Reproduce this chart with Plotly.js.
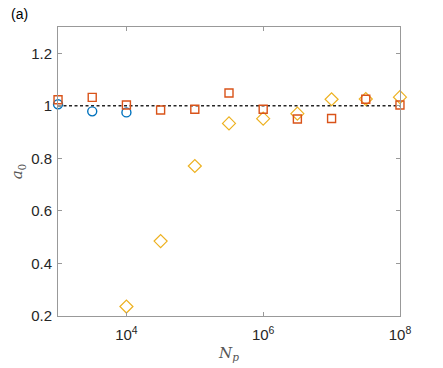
<!DOCTYPE html>
<html>
<head>
<meta charset="utf-8">
<script src="https://cdn.plot.ly/plotly-3.0.1.min.js"></script>
<style>
  body { margin: 0; background: #fff; }
  #grafico { width: 443px; height: 368px; }
</style>
</head>
<body>
<div id="grafico"></div>
<script>
// valores de Np (meias decadas de 10^3 a 10^8)
const Np = [1e3, 3.162e3, 1e4, 3.162e4, 1e5, 3.162e5, 1e6, 3.162e6, 1e7, 3.162e7, 1e8];

// serie azul (circulos)
const npCirculos = [1e3, 3.162e3, 1e4];
const a0Circulos = [1.006, 0.979, 0.975];

// serie laranja (quadrados)
const a0Quadrados = [1.023, 1.032, 1.003, 0.984, 0.987, 1.049, 0.987, 0.950, 0.952, 1.025, 1.003];

// serie amarela (losangos)
const npLosangos = [1e4, 3.162e4, 1e5, 3.162e5, 1e6, 3.162e6, 1e7, 3.162e7, 1e8];
const a0Losangos = [0.236, 0.485, 0.771, 0.933, 0.951, 0.970, 1.025, 1.026, 1.033];

// linha de referencia
const refX = [1e3, 1e8];
const refY = [1, 1];

// ticks
const xTicks = [1e4, 1e6, 1e8];
const xTickText = ["10<sup>4</sup>", "10<sup>6</sup>", "10<sup>8</sup>"];
const yTicks = [0.2, 0.4, 0.6, 0.8, 1, 1.2];
const yTickText = ["0.2", "0.4", "0.6", "0.8", "1", "1.2"];

const data = [
  {x: refX, y: refY, mode: "lines", line: {color: "#262626", width: 1.5, dash: "3px,2.5px"}, hoverinfo: "skip"},
  {x: npLosangos, y: a0Losangos, mode: "markers", cliponaxis: false,
   marker: {symbol: "diamond-open", size: 10, color: "#EDB120", line: {width: 1.2}}},
  {x: npCirculos, y: a0Circulos, mode: "markers", cliponaxis: false,
   marker: {symbol: "circle-open", size: 9, color: "#0072BD", line: {width: 1.4}}},
  {x: Np, y: a0Quadrados, mode: "markers", cliponaxis: false,
   marker: {symbol: "square-open", size: 8, color: "#D95319", line: {width: 1.4}}}
];

const layout = {
  width: 443, height: 368,
  margin: {l: 57.5, r: 42.5, t: 27, b: 52},
  paper_bgcolor: "#fff", plot_bgcolor: "#fff",
  showlegend: false,
  font: {family: "Liberation Sans, Arial, sans-serif", size: 15, color: "#262626"},
  xaxis: {
    type: "log", range: [2.9995, 8.0005], tickvals: xTicks, ticktext: xTickText,
    showgrid: false, zeroline: false, showline: true, linecolor: "#999", linewidth: 1,
    mirror: "ticks", ticks: "inside", ticklen: 4, tickcolor: "#999", ticklabelstandoff: 5,
    title: {text: "<i>N<sub>p</sub></i>", font: {family: "DejaVu Serif, serif", size: 15, color: "#555"}, standoff: 5}
  },
  yaxis: {
    range: [0.2, 1.3], tickvals: yTicks, ticktext: yTickText,
    showgrid: false, zeroline: false, showline: true, linecolor: "#999", linewidth: 1,
    mirror: "ticks", ticks: "inside", ticklen: 4, tickcolor: "#999", ticklabelstandoff: 2,
    title: {text: "<i>a</i><sub>0</sub>", font: {family: "DejaVu Serif, serif", size: 15, color: "#555"}, standoff: 4}
  },
  annotations: [{
    text: "(a)", xref: "paper", yref: "paper", x: -0.144, y: 1.08,
    xanchor: "left", yanchor: "top", showarrow: false,
    font: {family: "Liberation Sans, Arial, sans-serif", size: 14, color: "#000"}
  }]
};

Plotly.newPlot(document.getElementById("grafico"), data, layout, {displayModeBar: false, staticPlot: true});
</script>
</body>
</html>
